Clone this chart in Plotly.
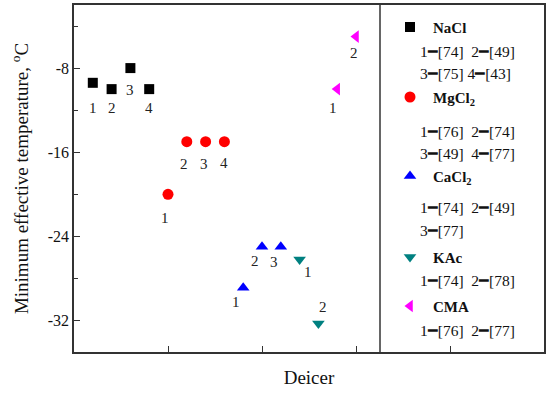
import plotly.graph_objects as go

# ---------------- data ----------------
series_names = ["NaCl", "MgCl<sub>2</sub>", "CaCl<sub>2</sub>", "KAc", "CMA"]
nacl_x = [0.2, 0.4, 0.6, 0.8]
nacl_y = [-9.4, -10.0, -8.0, -10.0]
mgcl2_x = [1.0, 1.2, 1.4, 1.6]
mgcl2_y = [-20.0, -15.0, -15.0, -15.0]
cacl2_x = [1.8, 2.0, 2.2]
cacl2_y = [-28.9, -25.0, -25.0]
kac_x = [2.4, 2.6]
kac_y = [-26.2, -32.3]
cma_x = [2.8, 3.0]
cma_y = [-10.0, -5.0]
point_labels = {
    "NaCl": ["1", "2", "3", "4"],
    "MgCl2": ["1", "2", "3", "4"],
    "CaCl2": ["1", "2", "3"],
    "KAc": ["1", "2"],
    "CMA": ["1", "2"],
}
legend_refs = {
    "NaCl": ["1━[74]  2━[49]", "3━[75] 4━[43]"],
    "MgCl2": ["1━[76]  2━[74]", "3━[49]  4━[77]"],
    "CaCl2": ["1━[74]  2━[49]", "3━[77]"],
    "KAc": ["1━[74]  2━[78]"],
    "CMA": ["1━[76]  2━[77]"],
}
y_tickvals = [-32, -24, -16, -8]
y_ticktext = ["-32", "-24", "-16", "-8"]
y_minor = [-28, -20, -12, -4]
x_tickvals = [1, 2, 3, 4]

# ---------------- styles ----------------
FONT = "Liberation Serif, Times New Roman, serif"
styles = {
    "NaCl": dict(symbol="square", color="#000000", size=10),
    "MgCl2": dict(symbol="circle", color="#ff0000", size=11),
    "CaCl2": dict(symbol="triangle-up", color="#0000ff", size=11),
    "KAc": dict(symbol="triangle-down", color="#008080", size=11),
    "CMA": dict(symbol="triangle-left", color="#ff00ff", size=11),
}
# label offsets in pixels (dx, dy-up)
label_offsets = {
    "NaCl": [(0, -25), (0, -19), (0, -22), (0, -19)],
    "MgCl2": [(-3, -24), (-3, -22), (-2, -22), (0, -21)],
    "CaCl2": [(-7, -14), (-7, -14), (-7, -15)],
    "KAc": [(8, -13), (5, 17)],
    "CMA": [(-4, -19), (-2, -16)],
}

data = {
    "NaCl": (nacl_x, nacl_y),
    "MgCl2": (mgcl2_x, mgcl2_y),
    "CaCl2": (cacl2_x, cacl2_y),
    "KAc": (kac_x, kac_y),
    "CMA": (cma_x, cma_y),
}
keys = ["NaCl", "MgCl2", "CaCl2", "KAc", "CMA"]

W, H = 550, 396
ml, mr, mt, mb = 74, 6, 5, 44
pw, ph = W - ml - mr, H - mt - mb

fig = go.Figure()
annotations = []
for k in keys:
    xs, ys = data[k]
    st = styles[k]
    fig.add_trace(go.Scatter(
        x=xs, y=ys, mode="markers", showlegend=False,
        marker=dict(symbol=st["symbol"], color=st["color"], size=st["size"], line=dict(width=0)),
    ))
    for (xv, yv, lab, (dx, dy)) in zip(xs, ys, point_labels[k], label_offsets[k]):
        annotations.append(dict(
            x=xv, y=yv, xref="x", yref="y", text=lab, showarrow=False,
            xshift=dx, yshift=dy, font=dict(family=FONT, size=15, color="#222222"),
        ))

# ---------------- custom legend (pixel layout -> paper) ----------------
def px2paper(px, py):
    return (px - ml) / pw, (H - mb - py) / ph

legend_marker_px_y = {"NaCl": 27, "MgCl2": 97, "CaCl2": 176, "KAc": 257, "CMA": 306}
legend_ref_px_y = {"NaCl": [51, 73], "MgCl2": [131, 153], "CaCl2": [207, 230], "KAc": [280], "CMA": [330]}
lx_marker, lx_name, lx_ref = 410, 431, 418

for k, name in zip(keys, series_names):
    st = styles[k]
    mx, my = px2paper(lx_marker, legend_marker_px_y[k])
    fig.add_trace(go.Scatter(
        x=[mx], y=[my], xaxis="x2", yaxis="y2", mode="markers", showlegend=False,
        marker=dict(symbol=st["symbol"], color=st["color"], size=st["size"], line=dict(width=0)),
        hoverinfo="skip",
    ))
    nx, ny = px2paper(lx_name, legend_marker_px_y[k])
    annotations.append(dict(
        x=nx, y=ny, xref="paper", yref="paper", text="<b>" + name + "</b>", showarrow=False,
        xanchor="left", yanchor="top", yshift=9, font=dict(family=FONT, size=15, color="#111111"),
    ))
    for line, ly in zip(legend_refs[k], legend_ref_px_y[k]):
        rx, ry = px2paper(lx_ref, ly)
        annotations.append(dict(
            x=rx, y=ry, xref="paper", yref="paper", text=line, showarrow=False,
            xanchor="left", yanchor="middle", font=dict(family=FONT, size=15.5, color="#111111"),
        ))

sep_x, _ = px2paper(380, 0)

fig.update_layout(
    width=W, height=H,
    margin=dict(l=ml, r=mr, t=mt, b=mb, autoexpand=False),
    paper_bgcolor="white", plot_bgcolor="white",
    font=dict(family=FONT, color="#111111"),
    annotations=annotations,
    shapes=[dict(type="line", xref="paper", yref="paper", x0=sep_x, x1=sep_x, y0=0, y1=1,
                 line=dict(color="#333333", width=1.5))],
    xaxis=dict(
        range=[0, 5], tickvals=x_tickvals, showticklabels=False, ticks="inside", ticklen=6,
        tickcolor="#333333", tickwidth=1.2, showline=True, linecolor="#333333", linewidth=1.5,
        mirror=True, showgrid=False, zeroline=False,
        title=dict(text="Deicer", font=dict(family=FONT, size=19, color="#111111"), standoff=18),
    ),
    yaxis=dict(
        range=[-35, -2], tickvals=y_tickvals, ticktext=y_ticktext, ticks="inside", ticklen=6,
        tickcolor="#333333", tickwidth=1.2, showline=True, linecolor="#333333", linewidth=1.5,
        mirror=True, showgrid=False, zeroline=False,
        minor=dict(tickvals=y_minor, ticks="inside", ticklen=4, tickcolor="#333333"),
        tickfont=dict(family=FONT, size=16, color="#111111"),
        title=dict(text="Minimum effective temperature, <sup>o</sup>C",
                   font=dict(family=FONT, size=19, color="#111111"), standoff=14),
    ),
    xaxis2=dict(range=[0, 1], overlaying="x", visible=False, fixedrange=True),
    yaxis2=dict(range=[0, 1], overlaying="y", visible=False, fixedrange=True),
)

fig.write_html("out.html", config={"displayModeBar": False},
               post_script="document.body.style.margin='0px';document.body.style.padding='0px';")
